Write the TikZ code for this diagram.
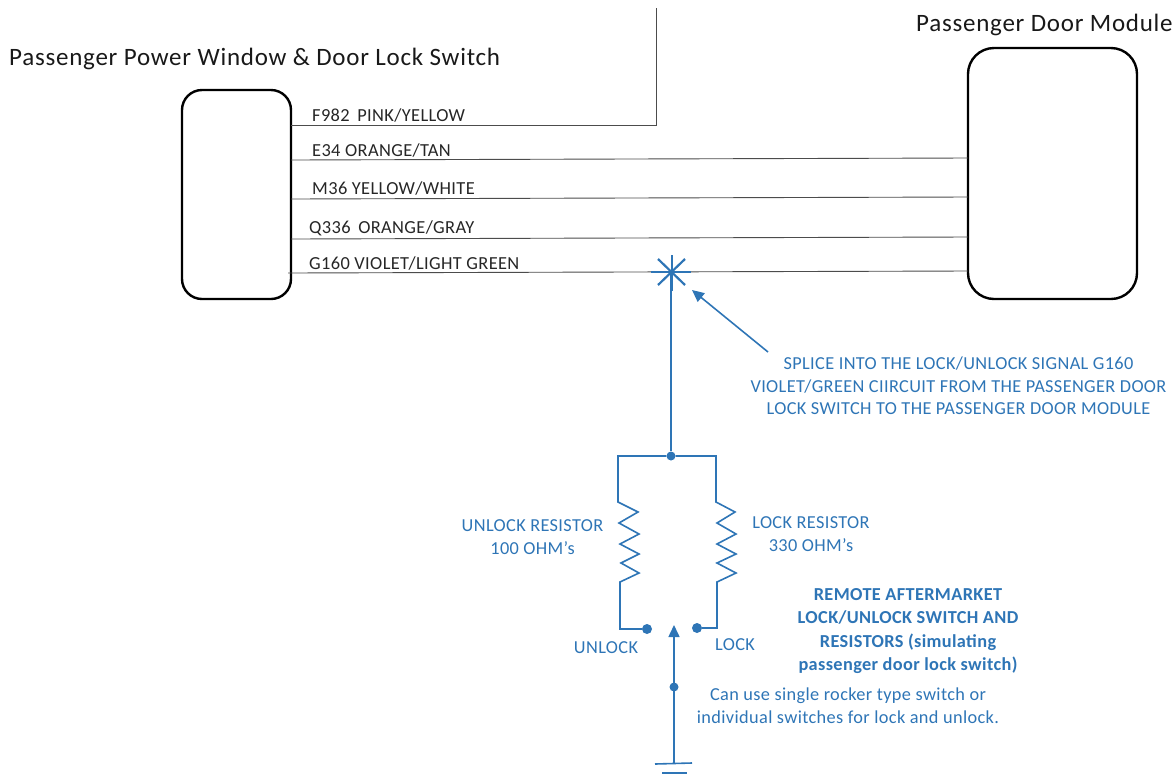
\documentclass[tikz,border=0pt]{standalone}
\usepackage{fontspec}
\setmainfont[LetterSpace=2]{Carlito}
\newfontfamily\titlefont[LetterSpace=3]{Carlito}
\usetikzlibrary{arrows.meta}
\definecolor{wireblue}{HTML}{2E75B6}
\tikzset{
  modbox/.style={draw=black, line width=2.4pt, rounded corners=20pt, inner sep=0pt},
  wirelbl/.style={anchor=base west, inner sep=0pt, text=black!85, font=\fontsize{18.4}{21}\selectfont},
  wire/.style={draw=black!70, line width=.9pt},
  title/.style={anchor=base west, inner sep=0pt, text=black!90, font=\titlefont\fontsize{25}{29}\selectfont},
  bluelbl/.style={align=center, inner sep=0pt, text=wireblue, font=\fontsize{18.3}{22.3}\selectfont},
  blueline/.style={draw=wireblue, line width=1.6pt},
  dot/.style={circle, fill=wireblue, inner sep=0pt, minimum size=#1},
  dot/.default=9pt
}
\begin{document}
\begin{tikzpicture}[x=1pt,y=-1pt]
  \useasboundingbox (0,0) rectangle (1175,780);

  \node[modbox, minimum width=109pt, minimum height=209pt] (switchbox) at (236.5,194.5) {};
  \node[modbox, minimum width=169pt, minimum height=251pt, rounded corners=26pt] (doormod) at (1052.5,173.5) {};

  \node[title] (switchtitle) at (9,65) {Passenger Power Window \& Door Lock Switch};
  \node[title] (doortitle) at (916,31) {Passenger Door Module};

  % wires
  \coordinate (fa) at (291,125);
  \coordinate (fb) at (656,125);
  \coordinate (fc) at (656,8);
  \coordinate (ea) at (291,160);
  \coordinate (eb) at (968,158);
  \coordinate (ma) at (291,199);
  \coordinate (mb) at (968,197);
  \coordinate (qa) at (291,239);
  \coordinate (qb) at (968,237);
  \coordinate (ga) at (288,273);
  \coordinate (gb) at (968,271);
  \draw[wire] (fa) -- (fb) -- (fc);
  \draw[wire] (ea) -- (eb);
  \draw[wire] (ma) -- (mb);
  \draw[wire] (qa) -- (qb);
  \draw[wire] (ga) -- (gb);

  \node[wirelbl] (flbl) at (312,121) {F982\, PINK/YELLOW};
  \node[wirelbl] (elbl) at (312,156) {E34 ORANGE/TAN};
  \node[wirelbl] (mlbl) at (312,194) {M36 YELLOW/WHITE};
  \node[wirelbl] (qlbl) at (309,233) {Q336\, ORANGE/GRAY};
  \node[wirelbl] (glbl) at (309,269) {G160 VIOLET/LIGHT GREEN};

  % splice
  \coordinate (splice) at (671,272);
  \draw[blueline, line width=2.2pt] (651,272) -- (691,272);
  \draw[blueline, line width=2.2pt] (672,255) -- (672,291);
  \draw[blueline, line width=2.2pt] (658,259) -- (685,285);
  \draw[blueline, line width=2.2pt] (685,259) -- (658,285);

  \node[bluelbl] (splicelbl) at (958.5,386) {SPLICE INTO THE LOCK/UNLOCK SIGNAL G160\\VIOLET/GREEN CIIRCUIT FROM THE PASSENGER DOOR\\LOCK SWITCH TO THE PASSENGER DOOR MODULE};
  \coordinate (arrowstart) at (768,352);
  \coordinate (arrowend) at (692,290);
  \draw[blueline, -{Triangle[length=12pt,width=11pt]}] (arrowstart) -- (arrowend);

  % resistors
  \node[dot] (top) at (671,456) {};
  \draw[blueline] (splice) -- (top);
  \node[dot=10pt] (unlockpt) at (647,629) {};
  \node[dot=10pt] (lockpt) at (697,628) {};
  \draw[blueline] (top) -- (618,456) -- (618,502)
    -- (638,512) -- (619,523)
    -- (639,534) -- (620,544)
    -- (639,554) -- (621,563)
    -- (639,573) -- (620,582)
    -- (620,629) -- (unlockpt);
  \draw[blueline] (top) -- (716,456) -- (716,502)
    -- (735,512) -- (717,523)
    -- (736,534) -- (717,544)
    -- (736,554) -- (717,563)
    -- (736,573) -- (717,582)
    -- (717,628) -- (lockpt);

  \node[bluelbl] (unlockres) at (532.5,537) {UNLOCK RESISTOR\\100 OHM’s};
  \node[bluelbl] (lockres) at (811,534) {LOCK RESISTOR\\330 OHM’s};
  \node[bluelbl] (unlocklbl) at (606,648) {UNLOCK};
  \node[bluelbl] (locklbl) at (735,645) {LOCK};

  % switch arm and ground
  \coordinate (arm) at (674,625);
  \coordinate (gnd) at (674,763);
  \node[dot] (armdot) at (674,687) {};
  \draw[blueline, -{Triangle[length=12pt,width=11pt]}] (gnd) -- (arm);
  \draw[blueline] (655,764) -- (692,763);
  \draw[blueline] (662,773) -- (687,773);

  \node[bluelbl, font=\fontsize{18.3}{23.3}\selectfont\bfseries] (remotelbl) at (908,631) {REMOTE AFTERMARKET\\LOCK/UNLOCK SWITCH AND\\RESISTORS (simulating\\passenger door lock switch)};
  \node[bluelbl, font=\fontsize{18.3}{23}\selectfont] (canlbl) at (848,706) {Can use single rocker type switch or\\individual switches for lock and unlock.};
\end{tikzpicture}
\end{document}
